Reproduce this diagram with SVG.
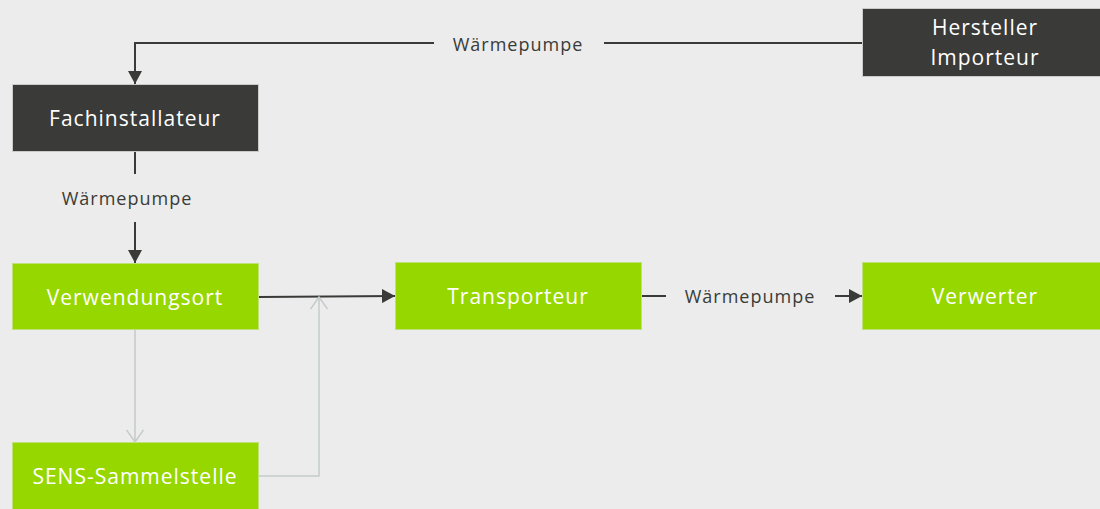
<svg xmlns="http://www.w3.org/2000/svg" width="1100" height="509" viewBox="0 0 1100 509">
<style>
.dark{fill:#3a3b38;stroke:#c9cbc8;stroke-width:1}
.green{fill:#97d700;stroke:#bfe07a;stroke-width:1}
.nt{font-family:"Open Sans","Noto Sans",sans-serif;font-size:21px;fill:#ffffff;text-anchor:middle;dominant-baseline:central;letter-spacing:1px}
.lt{font-family:"Open Sans","Noto Sans",sans-serif;font-size:18px;fill:#3a3b38;text-anchor:middle;dominant-baseline:central;letter-spacing:1px}
.c{fill:none;stroke:#3a3b38;stroke-width:2}
.g{fill:none;stroke:#c5cbc9;stroke-width:1.5}
</style>
<defs>
<marker id="ah" viewBox="0 0 13 14" refX="13" refY="7" markerWidth="13" markerHeight="14" markerUnits="userSpaceOnUse" orient="auto">
<path d="M0,0 L13,7 L0,14 Z" fill="#3a3b38"/>
</marker>
<marker id="oh" viewBox="0 0 14 18" refX="13" refY="9" markerWidth="14" markerHeight="18" markerUnits="userSpaceOnUse" orient="auto">
<path d="M1,0.5 L13,9 L1,17.5" fill="none" stroke="#c5cbc9" stroke-width="1.5"/>
</marker>
</defs>
<rect width="1100" height="509" fill="#ebeceb"/>
<g id="connectors">
<path class="c" d="M862,43 L604,43"/>
<path class="c" d="M434,43 L135,43 L135,84" marker-end="url(#ah)"/>
<text class="lt" x="518" y="44">Wärmepumpe</text>
<path class="c" d="M135,152 L135,174"/>
<path class="c" d="M135,222 L135,263" marker-end="url(#ah)"/>
<text class="lt" x="127" y="198">Wärmepumpe</text>
<path class="c" d="M259,297 L395,296" marker-end="url(#ah)"/>
<path class="c" d="M642,296 L666,296"/>
<path class="c" d="M835,296 L862,296" marker-end="url(#ah)"/>
<text class="lt" x="750" y="296">Wärmepumpe</text>
<path class="g" d="M135,330 L135,442" marker-end="url(#oh)"/>
<path class="g" d="M259,476 L319,476 L319,297" marker-end="url(#oh)"/>
</g>
<g id="hersteller">
<rect class="dark" x="862.5" y="8.5" width="245" height="68"/>
<text class="nt" x="985" y="27">Hersteller</text>
<text class="nt" x="985" y="57">Importeur</text>
</g>
<g id="fachinstallateur">
<rect class="dark" x="12.5" y="84.5" width="246" height="67"/>
<text class="nt" x="135" y="118">Fachinstallateur</text>
</g>
<g id="verwendungsort">
<rect class="green" x="12.5" y="263.5" width="246" height="66"/>
<text class="nt" x="135" y="297">Verwendungsort</text>
</g>
<g id="transporteur">
<rect class="green" x="395.5" y="262.5" width="246" height="67"/>
<text class="nt" x="518" y="296">Transporteur</text>
</g>
<g id="verwerter">
<rect class="green" x="862.5" y="262.5" width="245" height="67"/>
<text class="nt" x="985" y="296">Verwerter</text>
</g>
<g id="sens">
<rect class="green" x="12.5" y="442.5" width="246" height="70"/>
<text class="nt" x="135" y="476">SENS-Sammelstelle</text>
</g>
</svg>
